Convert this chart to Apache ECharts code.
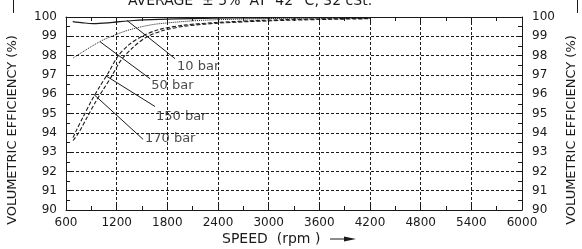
<!DOCTYPE html>
<html><head><meta charset="utf-8">
<script src="https://cdn.jsdelivr.net/npm/echarts@6/dist/echarts.min.js"></script>
<style>html,body{margin:0;padding:0;background:#fff}#c{width:582px;height:249px}</style>
</head><body><div id="c"></div>
<script>
// Data (speed rpm, volumetric efficiency %)
const bar10  = [[680,99.76],[800,99.70],[920,99.66],[1100,99.70],[1400,99.82],[1700,99.88],[2100,99.92],[2600,99.95],[3200,99.96],[3800,99.96],[4200,99.96]];
const bar50  = [[683,97.87],[800,98.2],[1003,98.73],[1150,99.02],[1323,99.30],[1500,99.50],[1680,99.64],[2100,99.80],[2400,99.86],[3000,99.92],[3600,99.95],[4200,99.95]];
const bar150 = [[683,93.75],[720,94.1],[800,94.8],[900,95.65],[1000,96.4],[1100,97.1],[1217,97.98],[1350,98.58],[1500,99.0],[1700,99.35],[2000,99.58],[2400,99.72],[3000,99.84],[3600,99.9],[4200,99.93]];
const bar170 = [[683,93.6],[750,94.0],[850,94.8],[950,95.6],[1050,96.3],[1150,97.0],[1250,97.75],[1400,98.45],[1550,98.95],[1750,99.3],[2000,99.52],[2400,99.68],[3000,99.8],[3600,99.87],[4200,99.91]];
// leader lines: [curve point, end point], label anchor
const leaderNames = ['10 bar','50 bar','150 bar','170 bar'];
const leaderFrom  = [[1323,99.82],[1003,98.72],[1074,96.95],[932,95.98]];
const leaderTo    = [[1892,97.84],[1596,96.80],[1655,95.36],[1513,93.66]];
const labelAt     = [[1915,97.42],[1610,96.44],[1665,94.85],[1535,93.68]];
const xTicks = [600,1200,1800,2400,3000,3600,4200,4800,5400,6000];
const yTicks = [90,91,92,93,94,95,96,97,98,99,100];

const ink = '#1a1a1a';
const font = 'DejaVu Sans';
const chart = echarts.init(document.getElementById('c'));
const axisCommon = {
  type:'value', axisLine:{show:true,lineStyle:{color:ink,width:1}},
  axisTick:{show:true,inside:true,length:5,lineStyle:{color:ink}},
  minorTick:{show:true,splitNumber:2,length:4,lineStyle:{color:ink}},
};
const lineSeries = (name,data,type,width)=>({
  name, type:'line', data, smooth:0.3, symbol:'none',
  lineStyle:{color:ink,width:width,type:type}, z:3, silent:true
});
const leaderSeries = leaderNames.map((n,i)=>({
  type:'line', data:[leaderFrom[i],leaderTo[i]], symbol:'none',
  lineStyle:{color:ink,width:1}, silent:true, z:4
}));
chart.setOption({
  animation:false,
  grid:{left:66,right:60,top:17,bottom:39},
  xAxis:[
    Object.assign({}, axisCommon, {min:xTicks[0],max:xTicks[xTicks.length-1],interval:600,position:'bottom',
      axisLabel:{color:ink,fontFamily:font,fontSize:12,margin:7,formatter:v=>String(v)},
      splitLine:{show:true,lineStyle:{color:ink,type:[3,2],width:1}}}),
    Object.assign({}, axisCommon, {min:xTicks[0],max:xTicks[xTicks.length-1],interval:600,position:'top',
      axisLabel:{show:false},splitLine:{show:false}})
  ],
  yAxis:[
    Object.assign({}, axisCommon, {min:yTicks[0],max:yTicks[yTicks.length-1],interval:1,position:'left',
      axisLabel:{color:ink,fontFamily:font,fontSize:12,margin:9,formatter:v=>String(v)},
      splitLine:{show:true,lineStyle:{color:ink,type:[3,2],width:1}}}),
    Object.assign({}, axisCommon, {min:yTicks[0],max:yTicks[yTicks.length-1],interval:1,position:'right',
      axisLabel:{color:ink,fontFamily:font,fontSize:12,margin:10,formatter:v=>String(v)},splitLine:{show:false}})
  ],
  series:[
    lineSeries('10 bar',bar10,'solid',1.2),
    lineSeries('50 bar',bar50,[1,1],1),
    lineSeries('150 bar',bar150,[4,2],1.1),
    lineSeries('170 bar',bar170,[4,2],1.1),
    ...leaderSeries,
    {type:'scatter', data:labelAt.map((p,i)=>({value:p,name:leaderNames[i]})), symbolSize:0, silent:true,
     label:{show:true,position:'right',distance:0,formatter:p=>p.name,color:ink,fontFamily:font,fontSize:13}}
  ],
  graphic:[
    {type:'text',style:{text:'AVERAGE  \u00b1 5%  AT  42\u00b0 C, 32 cSt.',fill:ink,font:'14px '+font,textAlign:'center',textVerticalAlign:'middle'},x:250,y:1},
    {type:'text',style:{text:'VOLUMETRIC EFFICIENCY (%)',fill:ink,font:'13px '+font,textAlign:'center',textVerticalAlign:'middle'},x:13,y:130,rotation:Math.PI/2},
    {type:'text',style:{text:'VOLUMETRIC EFFICIENCY (%)',fill:ink,font:'13px '+font,textAlign:'center',textVerticalAlign:'middle'},x:572,y:130,rotation:Math.PI/2},
    {type:'text',style:{text:'SPEED  (rpm )',fill:ink,font:'14px '+font,textAlign:'left',textVerticalAlign:'middle'},x:222,y:239},
    {type:'line',shape:{x1:330,y1:239,x2:348,y2:239},style:{stroke:ink,lineWidth:1}},
    {type:'polygon',shape:{points:[[344,236.5],[356,239],[344,241.5]]},style:{fill:ink}},
    {type:'line',shape:{x1:13.5,y1:0,x2:13.5,y2:13},style:{stroke:ink,lineWidth:1}},
    {type:'line',shape:{x1:577.5,y1:0,x2:577.5,y2:13},style:{stroke:ink,lineWidth:1}}
  ]
});
</script></body></html>
